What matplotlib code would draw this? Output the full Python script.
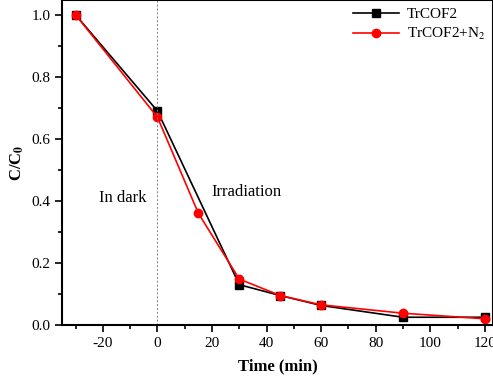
import matplotlib.pyplot as plt
from matplotlib.ticker import MultipleLocator

# data
time_a = [-30, 0, 30, 45, 60, 90, 120]
trcof2 = [1.0, 0.69, 0.13, 0.095, 0.063, 0.025, 0.025]
time_b = [-30, 0, 15, 30, 45, 60, 90, 120]
trcof2_n2 = [1.0, 0.67, 0.36, 0.148, 0.095, 0.065, 0.038, 0.02]

plt.rcParams['font.family'] = ['Liberation Serif', 'DejaVu Serif']
plt.rcParams['mathtext.fontset'] = 'stix'
plt.rcParams['axes.unicode_minus'] = False

fig = plt.figure(figsize=(4.93, 3.82), dpi=100)
ax = fig.add_axes([62 / 493, 57 / 382, 431 / 493, 325 / 382])

ax.plot(time_a, trcof2, color='black', marker='s', markersize=5.5, lw=1.2, label='TrCOF2')
ax.plot(time_b, trcof2_n2, color='red', marker='o', markersize=6, lw=1.2, label='TrCOF2+N$_2$')

ax.axvline(0, color='gray', lw=0.7, ls=(0, (2, 2)))

ax.set_xlim(-35, 123)
ax.set_ylim(0, 1.048)
ax.xaxis.set_major_locator(MultipleLocator(20))
ax.xaxis.set_minor_locator(MultipleLocator(10))
ax.yaxis.set_major_locator(MultipleLocator(0.2))
ax.yaxis.set_minor_locator(MultipleLocator(0.1))
ax.tick_params(which='both', direction='out', labelsize=11, width=1.2)
ax.tick_params(which='major', length=5)
ax.tick_params(which='minor', length=3)
for s in ax.spines.values():
    s.set_linewidth(1.5)

ax.set_xlabel('Time (min)', fontsize=12, fontweight='bold', labelpad=6)
ax.set_ylabel('C/C$_\\mathbf{0}$', fontsize=12, fontweight='bold')

ax.text(-12.8, 0.41, 'In dark', fontsize=12, ha='center', va='center')
ax.text(32.6, 0.43, 'Irradiation', fontsize=12, ha='center', va='center')

ax.legend(loc='upper right', frameon=False, fontsize=11, handlelength=3,
          borderaxespad=0.1, bbox_to_anchor=(1.0, 1.0), handletextpad=0.5, labelspacing=0.3)

fig.savefig('out.png', dpi=100)
